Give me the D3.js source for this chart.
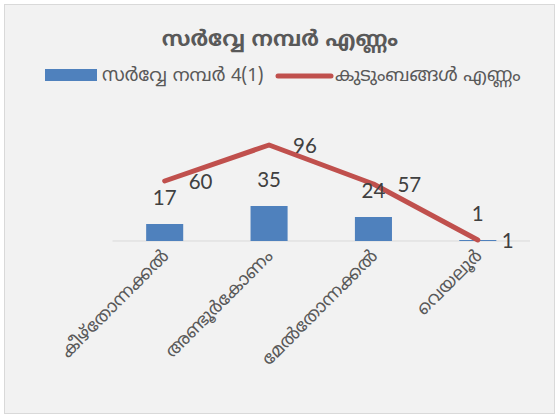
<!DOCTYPE html>
<html><head><meta charset="utf-8">
<script src="https://cdn.jsdelivr.net/npm/d3@7"></script>
<style>body{margin:0;background:#fff;} svg{display:block;}</style>
</head><body>
<svg id="c" width="560" height="416"></svg>
<script>
const title = "സർവ്വേ നമ്പർ എണ്ണം";
const categories = ["കീഴ്തോന്നക്കൽ", "അണ്ടൂർകോണം", "മേൽതോന്നക്കൽ", "വെയലൂർ"];
const barName = "സർവ്വേ നമ്പർ 4(1)";
const barValues = [17, 35, 24, 1];
const lineName = "കുടുംബങ്ങൾ എണ്ണം";
const lineValues = [60, 96, 57, 1];

const font = "'Noto Sans Malayalam','Noto Sans','DejaVu Sans',sans-serif";
const numFont = "Lato,'Noto Sans',sans-serif";
const svg = d3.select("#c");
svg.append("rect").attr("x",4.5).attr("y",4.5).attr("width",550).attr("height",409)
  .attr("fill","#f2f2f2").attr("stroke","#d9d9d9");

const x = d3.scaleBand().domain(categories).range([112.5,530]).paddingInner(0.645).paddingOuter(0.3225);
const y = d3.scaleLinear().domain([0,100]).range([241,141]);

// axis line
svg.append("line").attr("x1",112.5).attr("x2",530).attr("y1",y(0)).attr("y2",y(0))
  .attr("stroke","#d9d9d9").attr("stroke-width",1);

svg.selectAll("rect.bar").data(barValues).enter().append("rect").attr("class","bar")
  .attr("x",(d,i)=>x(categories[i])).attr("width",x.bandwidth())
  .attr("y",d=>y(d)).attr("height",d=>y(0)-y(d)).attr("fill","#4f81bd");

const cx = i => x(categories[i]) + x.bandwidth()/2;
const line = d3.line().x((d,i)=>cx(i)).y(d=>y(d));
svg.append("path").datum(lineValues).attr("d",line).attr("fill","none")
  .attr("stroke","#c0504d").attr("stroke-width",5).attr("stroke-linecap","round").attr("stroke-linejoin","round");

// bar labels
svg.selectAll("text.bl").data(barValues).enter().append("text").attr("class","bl")
  .attr("x",(d,i)=>cx(i)).attr("y",d=>y(d)-19).attr("text-anchor","middle")
  .attr("font-family",numFont).attr("font-size",20.5).attr("fill","#404040").text(d=>d);
// line labels
svg.selectAll("text.ll").data(lineValues).enter().append("text").attr("class","ll")
  .attr("x",(d,i)=>cx(i)+24).attr("y",d=>y(d)+7.5).attr("text-anchor","start")
  .attr("font-family",numFont).attr("font-size",20.5).attr("fill","#404040").text(d=>d);

// category labels
svg.selectAll("text.cat").data(categories).enter().append("text").attr("class","cat")
  .attr("transform",(d,i)=>`translate(${cx(i)+5},${257}) rotate(-45)`)
  .attr("text-anchor","end").attr("font-family",font).attr("font-size",18).attr("fill","#595959").text(d=>d);

// title
svg.append("text").attr("x",280).attr("y",46).attr("text-anchor","middle")
  .attr("font-family",font).attr("font-size",21.5).attr("font-weight","bold").attr("fill","#595959").text(title);

// legend
svg.append("rect").attr("x",45).attr("y",69).attr("width",52).attr("height",12).attr("fill","#4f81bd");
svg.append("text").attr("x",102).attr("y",81).attr("font-family",font).attr("font-size",18.5).attr("fill","#595959").text(barName);
svg.append("line").attr("x1",278).attr("x2",331).attr("y1",76).attr("y2",76)
  .attr("stroke","#c0504d").attr("stroke-width",5).attr("stroke-linecap","round");
svg.append("text").attr("x",335).attr("y",81).attr("font-family",font).attr("font-size",18.5).attr("fill","#595959").text(lineName);
</script>
</body></html>
